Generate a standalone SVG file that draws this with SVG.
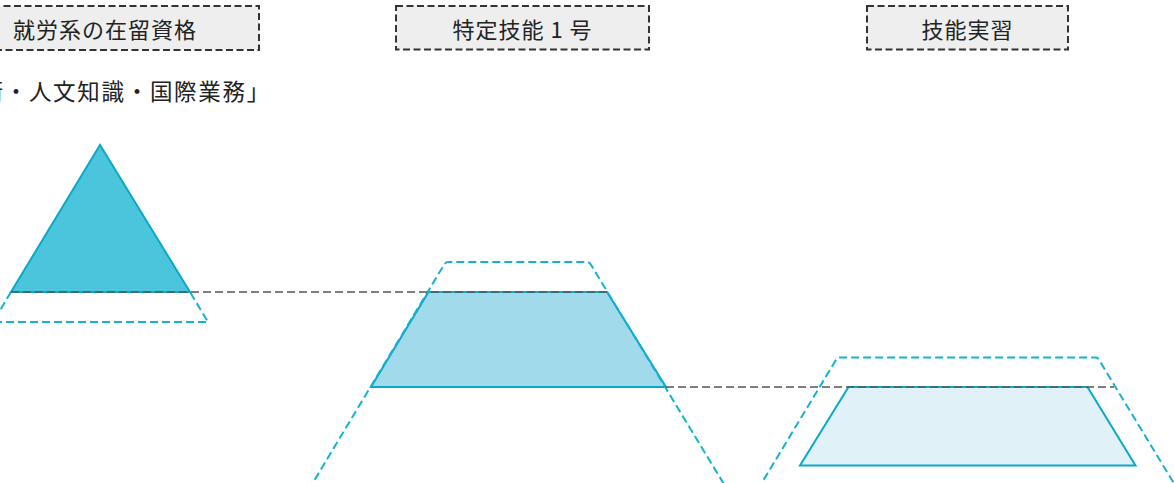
<svg xmlns="http://www.w3.org/2000/svg" width="1174" height="483" viewBox="0 0 1174 483">
  <style>
    .lbl-box { fill: #eeeeee; stroke: #333333; stroke-width: 2; stroke-dasharray: 7 3.5; }
    .lbl { font-family: "Noto Sans CJK JP", "Noto Sans", sans-serif; font-size: 22px; letter-spacing: 1px; fill: #222222; text-anchor: middle; dominant-baseline: central; }
    .sub { font-family: "Noto Sans CJK JP", "Noto Sans", sans-serif; font-size: 22.5px; letter-spacing: 1.7px; fill: #222222; dominant-baseline: central; }
    .solid { stroke: #0aa9c9; stroke-width: 2; stroke-linejoin: miter; }
    .outline { fill: none; stroke: #14b2d2; stroke-width: 2; stroke-dasharray: 8 4; stroke-linejoin: round; }
    .level { fill: none; stroke: #555555; stroke-width: 1.6; stroke-dasharray: 8 4; }
  </style>

  <g id="label-work">
    <rect class="lbl-box" x="-49" y="6" width="308" height="44"/>
    <text class="lbl" x="105" y="28">就労系の在留資格</text>
  </g>
  <g id="label-ssw1">
    <rect class="lbl-box" x="396" y="6" width="253" height="43.5"/>
    <text class="lbl" x="522.5" y="28">特定技能 1 号</text>
  </g>
  <g id="label-tit">
    <rect class="lbl-box" x="867" y="6" width="201" height="43.5"/>
    <text class="lbl" x="967.5" y="28">技能実習</text>
  </g>
  <g id="subtitle-work">
    <text class="sub" x="-19.5" y="90">術・人文知識・国際業務」</text>
  </g>

  <g id="shape-work">
    <polygon class="solid" fill="#4bc5db" points="100,145 11,292 190,292"/>
    <path class="outline" d="M11,292 L-7,322 L208,322 L190,292"/>
  </g>
  <g id="shape-ssw1">
    <polygon class="solid" fill="#a1daea" points="428.5,292 607,292 666,387 371,387"/>
    <path class="outline" d="M308.5,490 L444.5,264 Q446,262 448.5,262 L587,262 Q589,262 590.5,264 L727.5,490"/>
  </g>
  <g id="shape-tit">
    <polygon class="solid" fill="#e0f2f7" points="848.5,387 1087.5,387 1135.5,465.5 800,465.5"/>
    <path class="outline" d="M757.5,490 L836.5,359 Q837.5,357.5 839.5,357.5 L1096,357.5 Q1097.5,357.5 1098.5,359 L1178,490"/>
  </g>

  <g id="connectors">
    <line class="level" x1="11" y1="292" x2="607" y2="292"/>
    <line class="level" x1="666" y1="387" x2="1114" y2="387"/>
  </g>
</svg>
